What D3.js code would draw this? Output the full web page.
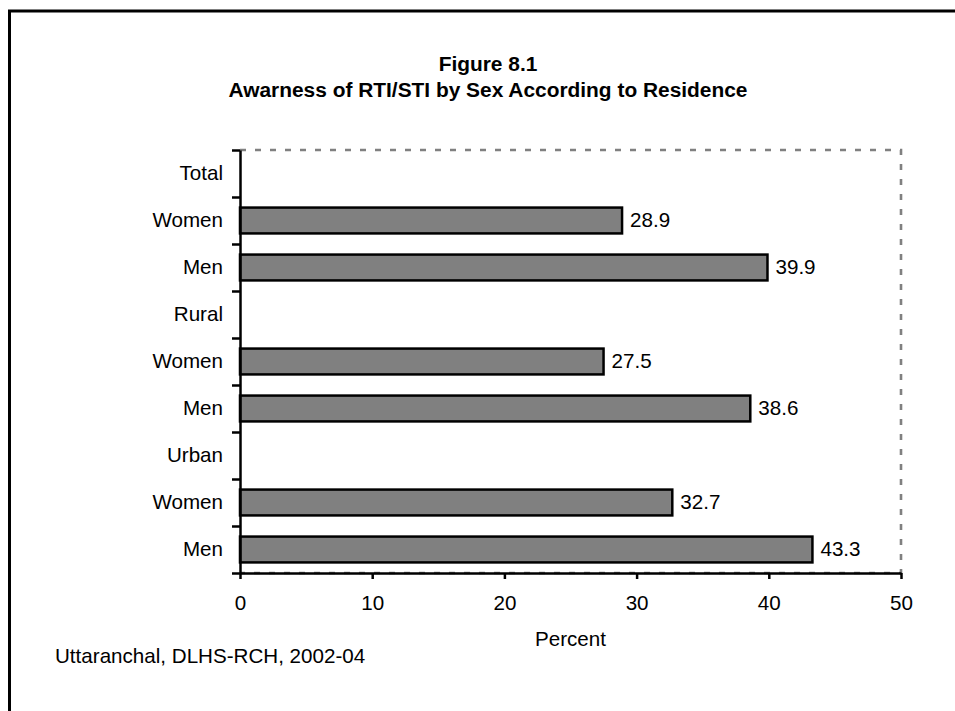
<!DOCTYPE html>
<html>
<head>
<meta charset="utf-8">
<script src="https://cdn.jsdelivr.net/npm/d3@7/dist/d3.min.js"></script>
<style>
  html, body { margin: 0; padding: 0; background: #fff; }
  svg { display: block; font-family: "Liberation Sans", Arial, sans-serif; }
</style>
</head>
<body>
<svg id="chart" width="955" height="711"></svg>
<script>
// Rows from top to bottom; group headers carry no value
const rowLabels = ["Total", "Women", "Men", "Rural", "Women", "Men", "Urban", "Women", "Men"];
const rowValues = [null, 28.9, 39.9, null, 27.5, 38.6, null, 32.7, 43.3];
const xTicks = [0, 10, 20, 30, 40, 50];
const titleLines = ["Figure 8.1", "Awarness of RTI/STI by Sex According to Residence"];
const xTitle = "Percent";
const sourceNote = "Uttaranchal, DLHS-RCH, 2002-04";

const svg = d3.select("#chart");
const plot = { left: 240, right: 901, top: 150, bottom: 573 };
const fontSize = 20.6;

const x = d3.scaleLinear().domain([0, 50]).range([plot.left, plot.right]);
const rows = d3.range(rowLabels.length);
const y = d3.scaleBand().domain(rows).range([plot.top, plot.bottom]).paddingInner(0.45).paddingOuter(0.225);
const rowEdge = d3.scaleLinear().domain([0, rowLabels.length]).range([plot.top, plot.bottom]);

// Outer frame
svg.append("rect")
  .attr("x", 9.5).attr("y", 11).attr("width", 1000).attr("height", 800)
  .attr("fill", "none").attr("stroke", "#000").attr("stroke-width", 3);

// Title
svg.append("text")
  .attr("x", 488).attr("text-anchor", "middle")
  .attr("font-weight", "bold").attr("font-size", 20.9)
  .selectAll("tspan").data(titleLines).join("tspan")
  .attr("x", 488).attr("y", (d, i) => 70.5 + i * 26)
  .text(d => d);

// Dashed plot-area border (top, right, bottom)
const dash = svg.append("g").attr("fill", "none").attr("stroke", "#808080")
  .attr("stroke-width", 2.6).attr("stroke-dasharray", "6,9");
dash.append("path").attr("d", `M${plot.left},${plot.top}H${plot.right}V${plot.bottom}H${plot.left}`);

// Bars
const bars = rows.filter(i => rowValues[i] !== null);
svg.append("g").selectAll("rect").data(bars).join("rect")
  .attr("x", x(0))
  .attr("y", i => y(i))
  .attr("width", i => x(rowValues[i]) - x(0))
  .attr("height", y.bandwidth())
  .attr("fill", "#808080")
  .attr("stroke", "#000")
  .attr("stroke-width", 2.5);

// Value labels
svg.append("g").selectAll("text").data(bars).join("text")
  .attr("x", i => x(rowValues[i]) + 8)
  .attr("y", i => y(i) + y.bandwidth() / 2)
  .attr("dy", "0.33em")
  .attr("font-size", fontSize)
  .attr("fill", "#000")
  .text(i => rowValues[i].toFixed(1));

// Y axis: line with ticks on row boundaries
const yAxis = svg.append("g")
  .attr("transform", `translate(${plot.left},0)`)
  .call(d3.axisLeft(rowEdge).tickValues(d3.range(rowLabels.length + 1)).tickFormat("").tickSize(8).tickSizeOuter(0));
yAxis.selectAll("path, line").attr("stroke", "#000").attr("stroke-width", 2.5);

// Row labels
svg.append("g").selectAll("text").data(rows).join("text")
  .attr("x", plot.left - 17)
  .attr("y", i => y(i) + y.bandwidth() / 2)
  .attr("dy", "0.3em")
  .attr("text-anchor", "end")
  .attr("font-size", fontSize)
  .text(i => rowLabels[i]);

// X axis
const xAxis = svg.append("g")
  .attr("transform", `translate(0,${plot.bottom})`)
  .call(d3.axisBottom(x).tickValues(xTicks).tickSize(6).tickSizeOuter(0).tickPadding(16));
xAxis.selectAll("path, line").attr("stroke", "#000").attr("stroke-width", 2.5);
xAxis.selectAll("text").attr("font-size", fontSize).attr("fill", "#000")
  .attr("font-family", "'Liberation Sans', Arial, sans-serif");

// Axis title
svg.append("text")
  .attr("x", (plot.left + plot.right) / 2).attr("y", 646)
  .attr("text-anchor", "middle").attr("font-size", fontSize)
  .text(xTitle);

// Source note
svg.append("text")
  .attr("x", 55).attr("y", 663)
  .attr("font-size", fontSize)
  .text(sourceNote);
</script>
</body>
</html>
